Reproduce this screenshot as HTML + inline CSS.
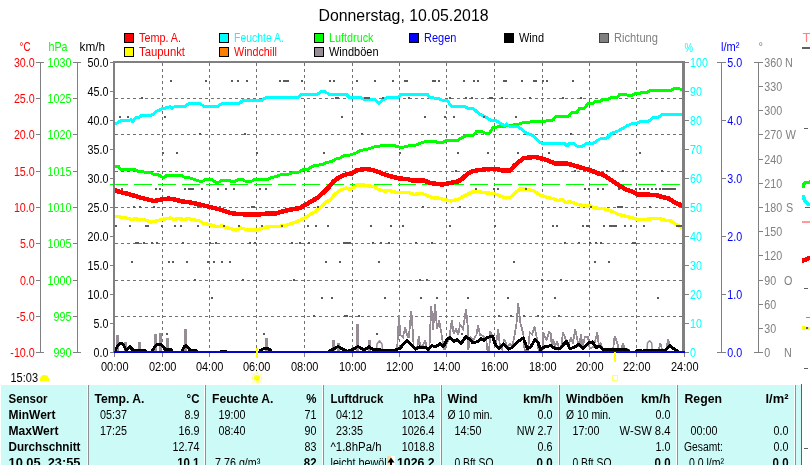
<!DOCTYPE html>
<html><head><meta charset="utf-8"><title>Donnerstag, 10.05.2018</title>
<style>
html,body{margin:0;padding:0;background:#fff;}
body{width:810px;height:465px;overflow:hidden;}
svg{display:block;will-change:transform;font-family:"Liberation Sans",sans-serif;}
text{white-space:pre;}
</style></head><body>
<svg width="810" height="465" viewBox="0 0 810 465">
<rect width="810" height="465" fill="#ffffff"/>
<text x="318.5" y="21.0" font-size="16" fill="#000" textLength="170.0" lengthAdjust="spacingAndGlyphs">Donnerstag, 10.05.2018</text>
<rect x="124" y="33" width="10" height="10" fill="#000" />
<rect x="125" y="34" width="8" height="8" fill="#ff0000" />
<text x="139.0" y="42.0" font-size="12" fill="#ff0000" textLength="42.0" lengthAdjust="spacingAndGlyphs">Temp. A.</text>
<rect x="124" y="47" width="10" height="10" fill="#000" />
<rect x="125" y="48" width="8" height="8" fill="#ffff00" />
<text x="139.0" y="56.0" font-size="12" fill="#ff0000" textLength="46.0" lengthAdjust="spacingAndGlyphs">Taupunkt</text>
<rect x="219" y="33" width="10" height="10" fill="#000" />
<rect x="220" y="34" width="8" height="8" fill="#00ffff" />
<text x="234.0" y="42.0" font-size="12" fill="#00ffff" textLength="50.0" lengthAdjust="spacingAndGlyphs">Feuchte A.</text>
<rect x="219" y="47" width="10" height="10" fill="#000" />
<rect x="220" y="48" width="8" height="8" fill="#ff8000" />
<text x="234.0" y="56.0" font-size="12" fill="#ff0000" textLength="43.0" lengthAdjust="spacingAndGlyphs">Windchill</text>
<rect x="314" y="33" width="10" height="10" fill="#000" />
<rect x="315" y="34" width="8" height="8" fill="#00ff00" />
<text x="329.0" y="42.0" font-size="12" fill="#00ff00" textLength="44.5" lengthAdjust="spacingAndGlyphs">Luftdruck</text>
<rect x="314" y="47" width="10" height="10" fill="#000" />
<rect x="315" y="48" width="8" height="8" fill="#968c96" />
<text x="329.0" y="56.0" font-size="12" fill="#000" textLength="49.5" lengthAdjust="spacingAndGlyphs">Windböen</text>
<rect x="409" y="33" width="10" height="10" fill="#000" />
<rect x="410" y="34" width="8" height="8" fill="#0000ff" />
<text x="424.0" y="42.0" font-size="12" fill="#0000ff" textLength="32.5" lengthAdjust="spacingAndGlyphs">Regen</text>
<rect x="504" y="33" width="10" height="10" fill="#000" />
<rect x="505" y="34" width="8" height="8" fill="#000" />
<text x="519.0" y="42.0" font-size="12" fill="#000" textLength="25.0" lengthAdjust="spacingAndGlyphs">Wind</text>
<rect x="599" y="33" width="10" height="10" fill="#404040" />
<rect x="600" y="34" width="8" height="8" fill="#808080" />
<text x="614.0" y="42.0" font-size="12" fill="#808080" textLength="44.0" lengthAdjust="spacingAndGlyphs">Richtung</text>
<text x="19.5" y="51.0" font-size="12" fill="#ff0000" textLength="11.0" lengthAdjust="spacingAndGlyphs">°C</text>
<text x="48.5" y="51.0" font-size="12" fill="#00ff00" textLength="19.0" lengthAdjust="spacingAndGlyphs">hPa</text>
<text x="79.5" y="51.0" font-size="12" fill="#000" textLength="25.5" lengthAdjust="spacingAndGlyphs">km/h</text>
<text x="684.5" y="51.5" font-size="12" fill="#00ffff" textLength="8.5" lengthAdjust="spacingAndGlyphs">%</text>
<text x="721.0" y="51.0" font-size="12" fill="#0000ff" textLength="18.5" lengthAdjust="spacingAndGlyphs">l/m²</text>
<text x="758.5" y="51.0" font-size="12" fill="#808080" textLength="4.5" lengthAdjust="spacingAndGlyphs">°</text>
<rect x="40" y="62" width="1" height="291" fill="#808080" />
<rect x="36" y="62" width="8" height="1" fill="#808080" />
<text x="13.9" y="66.6" font-size="12" fill="#ff0000" textLength="20.9" lengthAdjust="spacingAndGlyphs">30.0</text>
<rect x="36" y="98" width="5" height="1" fill="#808080" />
<text x="13.9" y="102.6" font-size="12" fill="#ff0000" textLength="20.9" lengthAdjust="spacingAndGlyphs">25.0</text>
<rect x="36" y="134" width="5" height="1" fill="#808080" />
<text x="13.9" y="138.6" font-size="12" fill="#ff0000" textLength="20.9" lengthAdjust="spacingAndGlyphs">20.0</text>
<rect x="36" y="171" width="5" height="1" fill="#808080" />
<text x="13.9" y="175.6" font-size="12" fill="#ff0000" textLength="20.9" lengthAdjust="spacingAndGlyphs">15.0</text>
<rect x="36" y="207" width="5" height="1" fill="#808080" />
<text x="13.9" y="211.6" font-size="12" fill="#ff0000" textLength="20.9" lengthAdjust="spacingAndGlyphs">10.0</text>
<rect x="36" y="243" width="5" height="1" fill="#808080" />
<text x="19.9" y="247.6" font-size="12" fill="#ff0000" textLength="14.9" lengthAdjust="spacingAndGlyphs">5.0</text>
<rect x="36" y="280" width="5" height="1" fill="#808080" />
<text x="19.9" y="284.6" font-size="12" fill="#ff0000" textLength="14.9" lengthAdjust="spacingAndGlyphs">0.0</text>
<rect x="36" y="316" width="5" height="1" fill="#808080" />
<text x="16.3" y="320.6" font-size="12" fill="#ff0000" textLength="18.5" lengthAdjust="spacingAndGlyphs">-5.0</text>
<rect x="36" y="352" width="8" height="1" fill="#808080" />
<text x="10.3" y="356.6" font-size="12" fill="#ff0000" textLength="24.5" lengthAdjust="spacingAndGlyphs">-10.0</text>
<rect x="77" y="62" width="1" height="291" fill="#808080" />
<rect x="73" y="62" width="8" height="1" fill="#808080" />
<text x="47.6" y="66.6" font-size="12" fill="#00ff00" textLength="23.9" lengthAdjust="spacingAndGlyphs">1030</text>
<rect x="73" y="98" width="5" height="1" fill="#808080" />
<text x="47.6" y="102.6" font-size="12" fill="#00ff00" textLength="23.9" lengthAdjust="spacingAndGlyphs">1025</text>
<rect x="73" y="134" width="5" height="1" fill="#808080" />
<text x="47.6" y="138.6" font-size="12" fill="#00ff00" textLength="23.9" lengthAdjust="spacingAndGlyphs">1020</text>
<rect x="73" y="171" width="5" height="1" fill="#808080" />
<text x="47.6" y="175.6" font-size="12" fill="#00ff00" textLength="23.9" lengthAdjust="spacingAndGlyphs">1015</text>
<rect x="73" y="207" width="5" height="1" fill="#808080" />
<text x="47.6" y="211.6" font-size="12" fill="#00ff00" textLength="23.9" lengthAdjust="spacingAndGlyphs">1010</text>
<rect x="73" y="243" width="5" height="1" fill="#808080" />
<text x="47.6" y="247.6" font-size="12" fill="#00ff00" textLength="23.9" lengthAdjust="spacingAndGlyphs">1005</text>
<rect x="73" y="280" width="5" height="1" fill="#808080" />
<text x="47.6" y="284.6" font-size="12" fill="#00ff00" textLength="23.9" lengthAdjust="spacingAndGlyphs">1000</text>
<rect x="73" y="316" width="5" height="1" fill="#808080" />
<text x="53.6" y="320.6" font-size="12" fill="#00ff00" textLength="17.9" lengthAdjust="spacingAndGlyphs">995</text>
<rect x="73" y="352" width="8" height="1" fill="#808080" />
<text x="53.6" y="356.6" font-size="12" fill="#00ff00" textLength="17.9" lengthAdjust="spacingAndGlyphs">990</text>
<rect x="110" y="62" width="3" height="1" fill="#808080" />
<text x="87.6" y="66.6" font-size="12" fill="#000" textLength="20.9" lengthAdjust="spacingAndGlyphs">50.0</text>
<rect x="110" y="91" width="3" height="1" fill="#808080" />
<text x="87.6" y="95.6" font-size="12" fill="#000" textLength="20.9" lengthAdjust="spacingAndGlyphs">45.0</text>
<rect x="110" y="120" width="3" height="1" fill="#808080" />
<text x="87.6" y="124.6" font-size="12" fill="#000" textLength="20.9" lengthAdjust="spacingAndGlyphs">40.0</text>
<rect x="110" y="149" width="3" height="1" fill="#808080" />
<text x="87.6" y="153.6" font-size="12" fill="#000" textLength="20.9" lengthAdjust="spacingAndGlyphs">35.0</text>
<rect x="110" y="178" width="3" height="1" fill="#808080" />
<text x="87.6" y="182.6" font-size="12" fill="#000" textLength="20.9" lengthAdjust="spacingAndGlyphs">30.0</text>
<rect x="110" y="207" width="3" height="1" fill="#808080" />
<text x="87.6" y="211.6" font-size="12" fill="#000" textLength="20.9" lengthAdjust="spacingAndGlyphs">25.0</text>
<rect x="110" y="236" width="3" height="1" fill="#808080" />
<text x="87.6" y="240.6" font-size="12" fill="#000" textLength="20.9" lengthAdjust="spacingAndGlyphs">20.0</text>
<rect x="110" y="265" width="3" height="1" fill="#808080" />
<text x="87.6" y="269.6" font-size="12" fill="#000" textLength="20.9" lengthAdjust="spacingAndGlyphs">15.0</text>
<rect x="110" y="294" width="3" height="1" fill="#808080" />
<text x="87.6" y="298.6" font-size="12" fill="#000" textLength="20.9" lengthAdjust="spacingAndGlyphs">10.0</text>
<rect x="110" y="323" width="3" height="1" fill="#808080" />
<text x="93.6" y="327.6" font-size="12" fill="#000" textLength="14.9" lengthAdjust="spacingAndGlyphs">5.0</text>
<rect x="110" y="352" width="3" height="1" fill="#808080" />
<text x="93.6" y="356.6" font-size="12" fill="#000" textLength="14.9" lengthAdjust="spacingAndGlyphs">0.0</text>
<rect x="685" y="62" width="4" height="1" fill="#808080" />
<text x="690.0" y="66.6" font-size="12" fill="#00ffff" textLength="17.9" lengthAdjust="spacingAndGlyphs">100</text>
<rect x="685" y="91" width="4" height="1" fill="#808080" />
<text x="690.0" y="95.6" font-size="12" fill="#00ffff" textLength="11.9" lengthAdjust="spacingAndGlyphs">90</text>
<rect x="685" y="120" width="4" height="1" fill="#808080" />
<text x="690.0" y="124.6" font-size="12" fill="#00ffff" textLength="11.9" lengthAdjust="spacingAndGlyphs">80</text>
<rect x="685" y="149" width="4" height="1" fill="#808080" />
<text x="690.0" y="153.6" font-size="12" fill="#00ffff" textLength="11.9" lengthAdjust="spacingAndGlyphs">70</text>
<rect x="685" y="178" width="4" height="1" fill="#808080" />
<text x="690.0" y="182.6" font-size="12" fill="#00ffff" textLength="11.9" lengthAdjust="spacingAndGlyphs">60</text>
<rect x="685" y="207" width="4" height="1" fill="#808080" />
<text x="690.0" y="211.6" font-size="12" fill="#00ffff" textLength="11.9" lengthAdjust="spacingAndGlyphs">50</text>
<rect x="685" y="236" width="4" height="1" fill="#808080" />
<text x="690.0" y="240.6" font-size="12" fill="#00ffff" textLength="11.9" lengthAdjust="spacingAndGlyphs">40</text>
<rect x="685" y="265" width="4" height="1" fill="#808080" />
<text x="690.0" y="269.6" font-size="12" fill="#00ffff" textLength="11.9" lengthAdjust="spacingAndGlyphs">30</text>
<rect x="685" y="294" width="4" height="1" fill="#808080" />
<text x="690.0" y="298.6" font-size="12" fill="#00ffff" textLength="11.9" lengthAdjust="spacingAndGlyphs">20</text>
<rect x="685" y="323" width="4" height="1" fill="#808080" />
<text x="690.0" y="327.6" font-size="12" fill="#00ffff" textLength="11.9" lengthAdjust="spacingAndGlyphs">10</text>
<rect x="685" y="352" width="4" height="1" fill="#808080" />
<text x="690.0" y="356.6" font-size="12" fill="#00ffff" textLength="6.0" lengthAdjust="spacingAndGlyphs">0</text>
<rect x="721" y="62" width="1" height="291" fill="#808080" />
<rect x="717" y="62" width="9" height="1" fill="#808080" />
<text x="727.3" y="66.6" font-size="12" fill="#0000ff" textLength="14.9" lengthAdjust="spacingAndGlyphs">5.0</text>
<rect x="721" y="120" width="5" height="1" fill="#808080" />
<text x="727.3" y="124.6" font-size="12" fill="#0000ff" textLength="14.9" lengthAdjust="spacingAndGlyphs">4.0</text>
<rect x="721" y="178" width="5" height="1" fill="#808080" />
<text x="727.3" y="182.6" font-size="12" fill="#0000ff" textLength="14.9" lengthAdjust="spacingAndGlyphs">3.0</text>
<rect x="721" y="236" width="5" height="1" fill="#808080" />
<text x="727.3" y="240.6" font-size="12" fill="#0000ff" textLength="14.9" lengthAdjust="spacingAndGlyphs">2.0</text>
<rect x="721" y="294" width="5" height="1" fill="#808080" />
<text x="727.3" y="298.6" font-size="12" fill="#0000ff" textLength="14.9" lengthAdjust="spacingAndGlyphs">1.0</text>
<rect x="717" y="352" width="9" height="1" fill="#808080" />
<text x="727.3" y="356.6" font-size="12" fill="#0000ff" textLength="14.9" lengthAdjust="spacingAndGlyphs">0.0</text>
<rect x="758" y="62" width="1" height="291" fill="#808080" />
<rect x="754" y="62" width="9" height="1" fill="#808080" />
<text x="764.3" y="66.6" font-size="12" fill="#808080" textLength="17.9" lengthAdjust="spacingAndGlyphs">360</text>
<text x="785.0" y="66.6" font-size="12" fill="#808080" textLength="7.8" lengthAdjust="spacingAndGlyphs">N</text>
<rect x="758" y="86" width="5" height="1" fill="#808080" />
<text x="764.3" y="90.6" font-size="12" fill="#808080" textLength="17.9" lengthAdjust="spacingAndGlyphs">330</text>
<rect x="758" y="110" width="5" height="1" fill="#808080" />
<text x="764.3" y="114.6" font-size="12" fill="#808080" textLength="17.9" lengthAdjust="spacingAndGlyphs">300</text>
<rect x="758" y="134" width="5" height="1" fill="#808080" />
<text x="764.3" y="138.6" font-size="12" fill="#808080" textLength="17.9" lengthAdjust="spacingAndGlyphs">270</text>
<text x="785.5" y="138.6" font-size="12" fill="#808080" textLength="10.4" lengthAdjust="spacingAndGlyphs">W</text>
<rect x="758" y="159" width="5" height="1" fill="#808080" />
<text x="764.3" y="163.6" font-size="12" fill="#808080" textLength="17.9" lengthAdjust="spacingAndGlyphs">240</text>
<rect x="758" y="183" width="5" height="1" fill="#808080" />
<text x="764.3" y="187.6" font-size="12" fill="#808080" textLength="17.9" lengthAdjust="spacingAndGlyphs">210</text>
<rect x="758" y="207" width="5" height="1" fill="#808080" />
<text x="764.3" y="211.6" font-size="12" fill="#808080" textLength="17.9" lengthAdjust="spacingAndGlyphs">180</text>
<text x="786.0" y="211.6" font-size="12" fill="#808080" textLength="7.2" lengthAdjust="spacingAndGlyphs">S</text>
<rect x="758" y="231" width="5" height="1" fill="#808080" />
<text x="764.3" y="235.6" font-size="12" fill="#808080" textLength="17.9" lengthAdjust="spacingAndGlyphs">150</text>
<rect x="758" y="255" width="5" height="1" fill="#808080" />
<text x="764.3" y="259.6" font-size="12" fill="#808080" textLength="17.9" lengthAdjust="spacingAndGlyphs">120</text>
<rect x="758" y="280" width="5" height="1" fill="#808080" />
<text x="764.3" y="284.6" font-size="12" fill="#808080" textLength="11.9" lengthAdjust="spacingAndGlyphs">90</text>
<text x="784.0" y="284.6" font-size="12" fill="#808080" textLength="8.4" lengthAdjust="spacingAndGlyphs">O</text>
<rect x="758" y="304" width="5" height="1" fill="#808080" />
<text x="764.3" y="308.6" font-size="12" fill="#808080" textLength="11.9" lengthAdjust="spacingAndGlyphs">60</text>
<rect x="758" y="328" width="5" height="1" fill="#808080" />
<text x="764.3" y="332.6" font-size="12" fill="#808080" textLength="11.9" lengthAdjust="spacingAndGlyphs">30</text>
<rect x="754" y="352" width="9" height="1" fill="#808080" />
<text x="764.3" y="356.6" font-size="12" fill="#808080" textLength="6.0" lengthAdjust="spacingAndGlyphs">0</text>
<text x="784.0" y="356.6" font-size="12" fill="#808080" textLength="7.8" lengthAdjust="spacingAndGlyphs">N</text>
<g shape-rendering="crispEdges">
<line x1="162.5" y1="63" x2="162.5" y2="351" stroke="#707070" stroke-width="1" stroke-dasharray="3 3"/>
<line x1="209.5" y1="63" x2="209.5" y2="351" stroke="#707070" stroke-width="1" stroke-dasharray="3 3"/>
<line x1="256.5" y1="63" x2="256.5" y2="351" stroke="#707070" stroke-width="1" stroke-dasharray="3 3"/>
<line x1="304.5" y1="63" x2="304.5" y2="351" stroke="#707070" stroke-width="1" stroke-dasharray="3 3"/>
<line x1="352.5" y1="63" x2="352.5" y2="351" stroke="#707070" stroke-width="1" stroke-dasharray="3 3"/>
<line x1="399.5" y1="63" x2="399.5" y2="351" stroke="#707070" stroke-width="1" stroke-dasharray="3 3"/>
<line x1="446.5" y1="63" x2="446.5" y2="351" stroke="#707070" stroke-width="1" stroke-dasharray="3 3"/>
<line x1="494.5" y1="63" x2="494.5" y2="351" stroke="#707070" stroke-width="1" stroke-dasharray="3 3"/>
<line x1="542.5" y1="63" x2="542.5" y2="351" stroke="#707070" stroke-width="1" stroke-dasharray="3 3"/>
<line x1="589.5" y1="63" x2="589.5" y2="351" stroke="#707070" stroke-width="1" stroke-dasharray="3 3"/>
<line x1="636.5" y1="63" x2="636.5" y2="351" stroke="#707070" stroke-width="1" stroke-dasharray="3 3"/>
<line x1="115" y1="98.5" x2="682" y2="98.5" stroke="#707070" stroke-width="1" stroke-dasharray="3 3"/>
<line x1="115" y1="134.5" x2="682" y2="134.5" stroke="#707070" stroke-width="1" stroke-dasharray="3 3"/>
<line x1="115" y1="171.5" x2="682" y2="171.5" stroke="#707070" stroke-width="1" stroke-dasharray="3 3"/>
<line x1="115" y1="207.5" x2="682" y2="207.5" stroke="#707070" stroke-width="1" stroke-dasharray="3 3"/>
<line x1="115" y1="243.5" x2="682" y2="243.5" stroke="#707070" stroke-width="1" stroke-dasharray="3 3"/>
<line x1="115" y1="280.5" x2="682" y2="280.5" stroke="#707070" stroke-width="1" stroke-dasharray="3 3"/>
<line x1="115" y1="316.5" x2="682" y2="316.5" stroke="#707070" stroke-width="1" stroke-dasharray="3 3"/>
</g>
<line x1="110" y1="184.5" x2="684" y2="184.5" stroke="#00ff00" stroke-width="1" stroke-dasharray="18 6" shape-rendering="crispEdges"/>
<g fill="#968c96" shape-rendering="crispEdges">
<rect x="116" y="335" width="3" height="16"/>
<rect x="124" y="342" width="3" height="9"/>
<rect x="138" y="342" width="3" height="9"/>
<rect x="154" y="334" width="3" height="17"/>
<rect x="159" y="333" width="3" height="18"/>
<rect x="166" y="338" width="3" height="13"/>
<rect x="184" y="329" width="3" height="22"/>
<rect x="265" y="338" width="3" height="13"/>
<rect x="332" y="340" width="3" height="11"/>
<rect x="337" y="343" width="3" height="8"/>
<rect x="356" y="324" width="3" height="27"/>
<rect x="368" y="340" width="3" height="11"/>
</g>
<polyline points="397.1,350.0 399.0,315.0 400.2,334.8 403.0,337.0 405.2,327.3 406.6,333.7 408.7,338.0 411.3,311.0 413.0,333.7 413.6,346.5 417.0,348.8 418.8,336.6 420.3,346.5 422.9,345.3 425.2,340.0 427.0,348.8 429.3,350.0 431.2,305.8 433.1,330.2 435.1,304.0 437.0,329.0 439.1,320.3 440.9,330.2 442.6,340.7 444.4,350.0 449.6,336.0 451.9,320.3 453.7,333.7 456.0,329.0 458.3,334.8 460.0,324.4 462.9,329.0 466.1,309.3 468.2,331.4 468.2,350.0 470.5,337.0 473.5,339.5 476.4,334.8 478.1,325.0 479.9,334.8 482.8,336.0 486.3,339.5 487.4,350.0 489.2,350.0 490.3,331.4 493.2,338.3 496.1,344.0 498.2,329.0 500.0,346.5 502.0,348.8 504.3,339.0 507.2,346.5 510.0,344.0 512.4,346.5 514.7,334.8 516.5,323.2 518.2,303.5 520.5,323.2 522.3,330.2 523.4,334.8 524.6,350.0 528.0,350.0 529.8,332.5 532.1,334.8 534.5,326.7 536.8,338.3 538.5,350.0 542.6,350.0 543.4,332.5 545.5,338.3 546.7,339.5 549.0,332.0 550.8,333.7 551.7,346.5 553.1,339.0 554.9,346.5 557.2,341.2 559.0,348.8 561.3,346.5 563.0,332.0 565.3,338.3 568.2,346.5 571.1,337.2 572.9,344.0 575.2,329.0 577.5,340.7 579.3,346.5 581.0,334.3 582.7,346.5 585.0,336.6 588.0,336.6 589.7,348.8 593.8,346.5 597.3,332.0 599.0,346.5 600.7,343.5 602.5,348.8 607.0,350.0 613.0,350.0 614.7,336.0 617.6,344.0 618.2,350.0 621.7,350.0 622.8,343.0 624.9,348.8 630.0,350.0" fill="none" stroke="#968c96" stroke-width="1.8" stroke-linejoin="miter" stroke-miterlimit="3" shape-rendering="crispEdges"/>
<polyline points="659.0,349.0 660.3,343.5 662.0,349.0" fill="none" stroke="#968c96" stroke-width="1.8" stroke-linejoin="miter" stroke-miterlimit="3" shape-rendering="crispEdges"/>
<polyline points="666.7,347.0 668.2,339.5 669.6,346.0" fill="none" stroke="#968c96" stroke-width="1.8" stroke-linejoin="miter" stroke-miterlimit="3" shape-rendering="crispEdges"/>
<polyline points="376.5,350.0 377.0,344.0 379.5,340.8 382.0,344.0 382.5,350.0" fill="none" stroke="#968c96" stroke-width="1.5" stroke-linejoin="round" stroke-linecap="round" />
<polyline points="647.0,350.0 647.5,343.0 649.6,340.8 651.7,343.0 652.2,350.0" fill="none" stroke="#968c96" stroke-width="1.5" stroke-linejoin="round" stroke-linecap="round" />
<clipPath id="pc"><rect x="114" y="62" width="570" height="291"/></clipPath><g clip-path="url(#pc)" shape-rendering="crispEdges">
<polyline points="114.0,166.0 118.0,166.0 121.0,169.4 134.0,169.4 138.0,171.4 150.0,172.6 154.0,174.4 158.0,174.4 162.0,177.0 165.0,177.0 167.0,175.0 181.0,175.0 184.0,177.0 190.0,178.0 194.0,179.4 199.0,181.0 203.0,181.0 206.0,179.4 212.0,179.4 215.0,182.0 219.0,182.0 222.0,180.4 229.0,180.4 231.0,181.4 235.0,181.4 238.0,179.4 242.0,179.4 245.0,181.0 252.0,181.0 255.0,179.4 268.0,179.4 271.0,177.6 276.0,176.6 280.0,175.0 288.0,174.4 292.0,173.0 299.0,172.0 303.0,169.4 308.0,169.4 312.0,166.4 316.0,165.4 323.0,164.4 327.0,162.4 332.0,161.4 336.0,159.0 340.0,158.0 344.0,155.4 350.0,155.0 356.0,153.0 360.0,150.6 368.0,149.0 374.0,147.0 382.0,145.6 394.0,145.6 399.0,147.0 404.0,147.0 408.0,146.0 416.0,145.0 422.0,142.6 428.0,141.0 434.0,141.0 438.0,142.6 443.0,142.6 446.0,140.4 458.0,140.4 462.0,137.6 468.0,135.0 474.0,135.0 477.0,131.0 481.0,131.0 485.0,133.0 489.6,133.0 493.0,127.4 503.0,126.4 518.0,124.4 524.0,122.4 546.0,121.0 553.0,120.0 556.0,116.6 569.0,116.0 572.0,112.2 577.0,112.2 580.0,108.0 585.0,108.0 588.0,103.4 593.0,103.4 596.0,101.0 601.0,101.0 603.0,99.0 609.0,99.0 611.0,97.4 617.0,97.4 620.0,94.0 625.0,94.0 628.0,95.4 632.0,95.4 635.0,93.4 640.0,93.4 642.0,92.4 647.0,92.4 650.0,90.6 671.0,90.6 674.0,88.4 679.0,88.4 683.0,90.6" fill="none" stroke="#00ff00" stroke-width="3" stroke-linejoin="round" stroke-linecap="round" />
<polyline points="114.0,123.4 117.0,123.0 121.0,120.6 129.0,120.6 131.0,119.5 133.0,122.0 135.0,118.0 137.0,117.6 140.0,117.0 142.0,115.0 152.0,115.0 155.0,112.5 157.0,111.0 160.0,110.0 162.0,108.6 168.0,107.6 170.0,106.5 172.0,108.5 174.0,107.0 185.0,106.4 189.0,103.6 200.0,103.6 204.0,106.4 218.0,106.4 222.0,103.6 239.0,103.6 243.0,100.4 262.0,100.4 266.0,97.6 298.0,97.6 301.6,94.0 318.0,94.0 321.0,91.6 325.0,91.6 328.4,94.0 346.0,94.0 349.6,97.6 361.0,97.6 364.0,99.6 375.0,99.6 379.0,103.4 383.0,99.6 387.0,97.6 398.0,97.6 401.0,94.0 427.0,94.0 430.0,97.6 438.0,98.4 442.0,100.0 447.0,100.0 451.0,106.0 464.0,106.0 468.0,108.4 473.0,108.4 480.0,114.4 484.0,116.0 491.0,120.4 496.0,120.4 502.0,124.4 505.0,126.0 506.5,124.0 508.5,126.0 518.0,126.4 526.0,133.0 532.0,135.0 541.0,143.0 564.0,143.0 567.0,146.0 570.0,143.0 573.0,143.0 577.0,146.0 583.0,146.0 587.0,143.0 594.0,143.0 598.0,140.0 602.0,138.0 607.0,138.0 612.0,133.0 618.0,131.0 626.0,126.4 632.0,123.6 637.0,123.6 641.0,121.0 649.0,121.0 653.0,117.6 658.0,117.6 662.0,114.6 683.0,114.6" fill="none" stroke="#00ffff" stroke-width="3" stroke-linejoin="round" stroke-linecap="round" />
<polyline points="114.0,216.0 120.0,217.0 126.0,218.0 132.0,219.6 136.0,218.6 140.0,220.0 144.0,219.4 151.0,222.0 156.0,221.0 162.0,219.4 170.0,218.0 174.0,219.4 178.0,218.6 184.0,219.4 189.0,218.6 194.0,220.0 199.0,220.6 204.0,223.6 210.0,224.6 216.0,226.6 222.0,226.0 230.0,228.6 236.0,230.0 241.0,228.0 248.0,230.0 258.0,230.0 264.0,227.4 272.0,226.4 276.0,226.4 284.0,226.0 290.0,224.0 296.0,222.0 302.0,219.4 308.0,216.0 316.0,211.0 321.0,206.6 326.0,202.0 330.0,200.0 335.0,194.0 340.0,190.4 346.0,188.0 350.0,189.4 353.0,188.0 357.0,185.0 364.0,185.0 368.0,186.0 374.0,186.4 378.0,189.4 384.0,191.0 390.0,190.6 396.0,192.4 408.0,192.4 414.0,194.4 422.0,193.4 428.0,196.0 434.0,198.0 438.0,198.0 444.0,199.4 451.0,201.0 458.0,199.4 464.0,196.0 472.0,192.0 478.0,191.6 486.0,193.0 494.0,193.4 500.0,196.0 506.0,198.0 510.0,197.4 515.0,193.0 520.0,189.0 526.0,189.0 534.0,191.0 540.0,195.0 547.0,197.4 553.0,198.6 558.0,200.6 562.0,199.4 566.0,202.6 570.0,201.6 578.0,204.6 586.0,206.0 590.0,206.0 595.0,208.0 604.0,208.6 612.0,211.4 619.0,214.6 628.0,216.6 638.0,219.6 646.0,219.4 652.0,218.6 660.0,218.6 666.0,220.6 671.0,221.0 677.0,225.0 683.0,228.0" fill="none" stroke="#ffff00" stroke-width="3.4" stroke-linejoin="round" stroke-linecap="round" />
<polyline points="114.0,190.0 120.0,192.0 126.0,193.4 134.0,195.6 142.0,198.0 150.0,200.0 154.0,201.0 162.0,199.4 169.0,198.6 174.0,199.4 182.0,201.4 190.0,202.4 198.0,204.0 206.0,206.0 214.0,208.0 222.0,210.0 230.0,213.0 238.0,214.0 250.0,214.6 258.0,214.6 266.0,213.6 276.0,213.6 284.0,211.0 292.0,209.4 300.0,208.0 305.0,205.0 312.0,201.0 318.0,197.4 324.0,192.0 329.0,187.0 334.0,181.0 339.0,177.4 346.0,174.4 352.0,173.4 356.0,170.6 362.0,169.4 368.0,169.0 374.0,170.4 380.0,172.6 386.0,175.0 392.0,176.6 400.0,178.6 408.0,179.0 412.0,180.6 424.0,180.4 430.0,183.0 438.0,184.0 442.0,184.6 450.0,183.0 458.0,181.4 462.0,179.0 468.0,173.4 473.0,171.0 480.0,170.0 488.0,169.0 497.0,169.0 502.0,170.6 510.0,170.6 515.0,165.0 520.0,161.0 524.0,158.0 535.0,157.0 542.0,158.6 548.0,160.6 555.0,163.4 566.0,163.4 574.0,165.4 582.0,168.0 590.0,170.0 598.0,173.4 603.0,174.6 608.0,178.0 614.0,182.0 620.0,186.0 626.0,189.4 632.0,191.6 638.0,194.4 646.0,194.6 656.0,195.0 662.0,197.0 669.0,198.6 675.0,202.6 683.0,206.0" fill="none" stroke="#ff0000" stroke-width="4.5" stroke-linejoin="round" stroke-linecap="round" />
</g>
<g fill="#5a5a5a" shape-rendering="crispEdges">
<rect x="170" y="80" width="2" height="2"/>
<rect x="205" y="80" width="2" height="2"/>
<rect x="231" y="80" width="2" height="2"/>
<rect x="237" y="80" width="2" height="2"/>
<rect x="246" y="80" width="2" height="2"/>
<rect x="279" y="80" width="2" height="2"/>
<rect x="283" y="80" width="2" height="2"/>
<rect x="285" y="80" width="2" height="2"/>
<rect x="287" y="80" width="2" height="2"/>
<rect x="301" y="80" width="2" height="2"/>
<rect x="329" y="80" width="2" height="2"/>
<rect x="333" y="80" width="2" height="2"/>
<rect x="356" y="80" width="2" height="2"/>
<rect x="374" y="80" width="2" height="2"/>
<rect x="392" y="80" width="2" height="2"/>
<rect x="404" y="80" width="2" height="2"/>
<rect x="406" y="80" width="2" height="2"/>
<rect x="432" y="80" width="2" height="2"/>
<rect x="434" y="80" width="2" height="2"/>
<rect x="438" y="80" width="2" height="2"/>
<rect x="463" y="80" width="2" height="2"/>
<rect x="473" y="80" width="2" height="2"/>
<rect x="477" y="80" width="2" height="2"/>
<rect x="503" y="80" width="2" height="2"/>
<rect x="505" y="80" width="2" height="2"/>
<rect x="521" y="80" width="2" height="2"/>
<rect x="533" y="80" width="2" height="2"/>
<rect x="535" y="80" width="2" height="2"/>
<rect x="542" y="80" width="2" height="2"/>
<rect x="546" y="80" width="2" height="2"/>
<rect x="572" y="80" width="2" height="2"/>
<rect x="141" y="97" width="2" height="2"/>
<rect x="335" y="97" width="2" height="2"/>
<rect x="337" y="97" width="2" height="2"/>
<rect x="364" y="97" width="2" height="2"/>
<rect x="366" y="97" width="2" height="2"/>
<rect x="368" y="97" width="2" height="2"/>
<rect x="382" y="97" width="2" height="2"/>
<rect x="408" y="97" width="2" height="2"/>
<rect x="449" y="97" width="2" height="2"/>
<rect x="465" y="97" width="2" height="2"/>
<rect x="471" y="97" width="2" height="2"/>
<rect x="489" y="97" width="2" height="2"/>
<rect x="491" y="97" width="2" height="2"/>
<rect x="501" y="97" width="2" height="2"/>
<rect x="529" y="97" width="2" height="2"/>
<rect x="562" y="97" width="2" height="2"/>
<rect x="580" y="97" width="2" height="2"/>
<rect x="119" y="116" width="2" height="2"/>
<rect x="127" y="116" width="2" height="2"/>
<rect x="164" y="116" width="2" height="2"/>
<rect x="341" y="116" width="2" height="2"/>
<rect x="424" y="116" width="2" height="2"/>
<rect x="444" y="116" width="2" height="2"/>
<rect x="453" y="116" width="2" height="2"/>
<rect x="483" y="116" width="2" height="2"/>
<rect x="515" y="116" width="2" height="2"/>
<rect x="199" y="133" width="2" height="2"/>
<rect x="244" y="133" width="2" height="2"/>
<rect x="361" y="133" width="2" height="2"/>
<rect x="570" y="133" width="2" height="2"/>
<rect x="162" y="152" width="2" height="2"/>
<rect x="176" y="152" width="2" height="2"/>
<rect x="256" y="152" width="2" height="2"/>
<rect x="323" y="152" width="2" height="2"/>
<rect x="399" y="152" width="2" height="2"/>
<rect x="457" y="152" width="2" height="2"/>
<rect x="487" y="152" width="2" height="2"/>
<rect x="517" y="152" width="2" height="2"/>
<rect x="548" y="152" width="2" height="2"/>
<rect x="639" y="152" width="2" height="2"/>
<rect x="455" y="170" width="2" height="2"/>
<rect x="574" y="170" width="2" height="2"/>
<rect x="606" y="170" width="2" height="2"/>
<rect x="622" y="170" width="2" height="2"/>
<rect x="661" y="170" width="2" height="2"/>
<rect x="121" y="188" width="2" height="2"/>
<rect x="155" y="188" width="2" height="2"/>
<rect x="159" y="188" width="2" height="2"/>
<rect x="184" y="188" width="2" height="2"/>
<rect x="188" y="188" width="2" height="2"/>
<rect x="190" y="188" width="2" height="2"/>
<rect x="192" y="188" width="2" height="2"/>
<rect x="201" y="188" width="2" height="2"/>
<rect x="217" y="188" width="2" height="2"/>
<rect x="225" y="188" width="2" height="2"/>
<rect x="233" y="188" width="2" height="2"/>
<rect x="259" y="188" width="2" height="2"/>
<rect x="265" y="188" width="2" height="2"/>
<rect x="475" y="188" width="2" height="2"/>
<rect x="493" y="188" width="2" height="2"/>
<rect x="497" y="188" width="2" height="2"/>
<rect x="525" y="188" width="2" height="2"/>
<rect x="584" y="188" width="2" height="2"/>
<rect x="588" y="188" width="2" height="2"/>
<rect x="597" y="188" width="2" height="2"/>
<rect x="602" y="188" width="2" height="2"/>
<rect x="618" y="188" width="2" height="2"/>
<rect x="635" y="188" width="2" height="2"/>
<rect x="639" y="188" width="2" height="2"/>
<rect x="643" y="188" width="2" height="2"/>
<rect x="647" y="188" width="2" height="2"/>
<rect x="651" y="188" width="2" height="2"/>
<rect x="655" y="188" width="2" height="2"/>
<rect x="659" y="188" width="2" height="2"/>
<rect x="133" y="206" width="2" height="2"/>
<rect x="139" y="206" width="2" height="2"/>
<rect x="153" y="206" width="2" height="2"/>
<rect x="197" y="206" width="2" height="2"/>
<rect x="219" y="206" width="2" height="2"/>
<rect x="251" y="206" width="2" height="2"/>
<rect x="253" y="206" width="2" height="2"/>
<rect x="317" y="206" width="2" height="2"/>
<rect x="422" y="206" width="2" height="2"/>
<rect x="459" y="206" width="2" height="2"/>
<rect x="590" y="206" width="2" height="2"/>
<rect x="617" y="206" width="2" height="2"/>
<rect x="619" y="206" width="2" height="2"/>
<rect x="621" y="206" width="2" height="2"/>
<rect x="649" y="206" width="2" height="2"/>
<rect x="115" y="225" width="2" height="2"/>
<rect x="129" y="225" width="2" height="2"/>
<rect x="145" y="225" width="2" height="2"/>
<rect x="147" y="225" width="2" height="2"/>
<rect x="161" y="225" width="2" height="2"/>
<rect x="174" y="225" width="2" height="2"/>
<rect x="180" y="225" width="2" height="2"/>
<rect x="197" y="225" width="2" height="2"/>
<rect x="223" y="225" width="2" height="2"/>
<rect x="238" y="225" width="2" height="2"/>
<rect x="261" y="225" width="2" height="2"/>
<rect x="281" y="225" width="2" height="2"/>
<rect x="307" y="225" width="2" height="2"/>
<rect x="315" y="225" width="2" height="2"/>
<rect x="327" y="225" width="2" height="2"/>
<rect x="370" y="225" width="2" height="2"/>
<rect x="390" y="225" width="2" height="2"/>
<rect x="402" y="225" width="2" height="2"/>
<rect x="449" y="225" width="2" height="2"/>
<rect x="494" y="225" width="2" height="2"/>
<rect x="552" y="225" width="2" height="2"/>
<rect x="556" y="225" width="2" height="2"/>
<rect x="582" y="225" width="2" height="2"/>
<rect x="586" y="225" width="2" height="2"/>
<rect x="588" y="225" width="2" height="2"/>
<rect x="603" y="225" width="2" height="2"/>
<rect x="609" y="225" width="2" height="2"/>
<rect x="611" y="225" width="2" height="2"/>
<rect x="613" y="225" width="2" height="2"/>
<rect x="615" y="225" width="2" height="2"/>
<rect x="624" y="225" width="2" height="2"/>
<rect x="630" y="225" width="2" height="2"/>
<rect x="643" y="225" width="2" height="2"/>
<rect x="135" y="242" width="2" height="2"/>
<rect x="137" y="242" width="2" height="2"/>
<rect x="143" y="242" width="2" height="2"/>
<rect x="151" y="242" width="2" height="2"/>
<rect x="156" y="242" width="2" height="2"/>
<rect x="182" y="242" width="2" height="2"/>
<rect x="209" y="242" width="2" height="2"/>
<rect x="215" y="242" width="2" height="2"/>
<rect x="249" y="242" width="2" height="2"/>
<rect x="254" y="242" width="2" height="2"/>
<rect x="291" y="242" width="2" height="2"/>
<rect x="299" y="242" width="2" height="2"/>
<rect x="308" y="242" width="2" height="2"/>
<rect x="343" y="242" width="2" height="2"/>
<rect x="345" y="242" width="2" height="2"/>
<rect x="347" y="242" width="2" height="2"/>
<rect x="349" y="242" width="2" height="2"/>
<rect x="372" y="242" width="2" height="2"/>
<rect x="380" y="242" width="2" height="2"/>
<rect x="388" y="242" width="2" height="2"/>
<rect x="415" y="242" width="2" height="2"/>
<rect x="431" y="242" width="2" height="2"/>
<rect x="564" y="242" width="2" height="2"/>
<rect x="578" y="242" width="2" height="2"/>
<rect x="589" y="242" width="2" height="2"/>
<rect x="595" y="242" width="2" height="2"/>
<rect x="600" y="242" width="2" height="2"/>
<rect x="632" y="242" width="2" height="2"/>
<rect x="634" y="242" width="2" height="2"/>
<rect x="131" y="261" width="2" height="2"/>
<rect x="168" y="261" width="2" height="2"/>
<rect x="172" y="261" width="2" height="2"/>
<rect x="186" y="261" width="2" height="2"/>
<rect x="207" y="261" width="2" height="2"/>
<rect x="213" y="261" width="2" height="2"/>
<rect x="221" y="261" width="2" height="2"/>
<rect x="229" y="261" width="2" height="2"/>
<rect x="325" y="261" width="2" height="2"/>
<rect x="339" y="261" width="2" height="2"/>
<rect x="378" y="261" width="2" height="2"/>
<rect x="513" y="261" width="2" height="2"/>
<rect x="594" y="261" width="2" height="2"/>
<rect x="608" y="261" width="2" height="2"/>
<rect x="194" y="279" width="2" height="2"/>
<rect x="242" y="279" width="2" height="2"/>
<rect x="293" y="279" width="2" height="2"/>
<rect x="419" y="279" width="2" height="2"/>
<rect x="426" y="279" width="2" height="2"/>
<rect x="541" y="279" width="2" height="2"/>
<rect x="560" y="279" width="2" height="2"/>
<rect x="211" y="297" width="2" height="2"/>
<rect x="321" y="297" width="2" height="2"/>
<rect x="331" y="297" width="2" height="2"/>
<rect x="384" y="297" width="2" height="2"/>
<rect x="420" y="297" width="2" height="2"/>
<rect x="436" y="297" width="2" height="2"/>
<rect x="467" y="297" width="2" height="2"/>
<rect x="507" y="297" width="2" height="2"/>
<rect x="554" y="297" width="2" height="2"/>
<rect x="657" y="297" width="2" height="2"/>
<rect x="313" y="315" width="2" height="2"/>
<rect x="344" y="315" width="2" height="2"/>
<rect x="346" y="315" width="2" height="2"/>
<rect x="358" y="315" width="2" height="2"/>
<rect x="498" y="315" width="2" height="2"/>
<rect x="510" y="315" width="2" height="2"/>
<rect x="523" y="315" width="2" height="2"/>
<rect x="537" y="315" width="2" height="2"/>
<rect x="558" y="315" width="2" height="2"/>
<rect x="166" y="333" width="2" height="2"/>
<rect x="263" y="333" width="2" height="2"/>
<rect x="376" y="333" width="2" height="2"/>
<rect x="461" y="333" width="2" height="2"/>
<rect x="662" y="188" width="14" height="2"/><rect x="676" y="225" width="6" height="2"/>
</g>
<polyline points="115.0,351.0 117.0,347.0 119.0,344.0 121.0,343.0 123.0,344.0 125.0,348.0 126.0,350.0 128.0,349.0 130.0,346.5 132.0,349.0 134.0,350.8 146.0,351.0" fill="none" stroke="#000" stroke-width="3" stroke-linejoin="round" stroke-linecap="round" shape-rendering="crispEdges"/>
<polyline points="152.0,351.0 154.0,348.0 156.0,345.0 159.0,344.0 162.0,345.0 164.0,348.0 166.0,350.0 168.0,349.0 170.0,349.0 172.0,350.5" fill="none" stroke="#000" stroke-width="3" stroke-linejoin="round" stroke-linecap="round" shape-rendering="crispEdges"/>
<polyline points="182.0,351.0 184.0,347.0 186.0,345.6 188.0,347.0 190.0,350.5 197.0,351.0" fill="none" stroke="#000" stroke-width="3" stroke-linejoin="round" stroke-linecap="round" shape-rendering="crispEdges"/>
<polyline points="221.0,351.0 226.0,351.0" fill="none" stroke="#000" stroke-width="3" stroke-linejoin="round" stroke-linecap="round" shape-rendering="crispEdges"/>
<polyline points="260.0,350.5 263.0,349.0 268.0,348.5 271.0,350.5" fill="none" stroke="#000" stroke-width="3" stroke-linejoin="round" stroke-linecap="round" shape-rendering="crispEdges"/>
<polyline points="329.0,351.0 333.0,349.5 336.0,347.5 338.0,346.5 340.0,347.5 343.0,349.5 346.0,350.5" fill="none" stroke="#000" stroke-width="3" stroke-linejoin="round" stroke-linecap="round" shape-rendering="crispEdges"/>
<polyline points="349.0,350.5 353.0,349.5 356.0,347.5 358.0,346.5 360.0,347.5 363.0,349.5 366.0,349.0 369.0,346.5 372.0,349.0 376.0,349.5 385.0,350.5 395.0,350.0 400.0,348.4 403.8,343.5 406.7,340.5 410.7,344.5 415.6,349.0 419.6,347.0 425.5,347.4 428.5,349.4 431.4,345.8 436.4,346.4 440.3,343.5 443.3,346.4 447.2,339.5 450.2,337.5 454.2,341.5 457.1,339.5 461.1,343.5 466.0,336.6 470.0,339.5 473.0,343.0 477.9,341.5 480.8,338.5 483.8,340.5 487.8,337.2 492.7,336.6 495.7,345.5 498.6,348.4 503.6,343.9 508.5,349.0 512.5,347.4 517.4,341.9 523.3,338.0 527.3,348.4 530.2,347.4 535.2,339.5 538.0,342.5 540.5,349.4 545.0,346.4 550.8,345.8 554.8,348.4 559.7,349.0 563.6,344.5 566.6,341.5 569.6,348.4 573.5,347.8 578.5,344.5 583.4,348.4 588.3,343.0 592.3,341.9 596.2,347.4 599.2,346.4 603.2,349.4 610.0,349.3 624.0,349.3 628.0,350.5" fill="none" stroke="#000" stroke-width="3" stroke-linejoin="round" stroke-linecap="round" shape-rendering="crispEdges"/>
<polyline points="637.0,350.5 641.0,350.5" fill="none" stroke="#000" stroke-width="3" stroke-linejoin="round" stroke-linecap="round" shape-rendering="crispEdges"/>
<polyline points="644.0,350.5 665.0,350.2 669.6,345.6 673.3,348.5 677.5,350.8" fill="none" stroke="#000" stroke-width="3" stroke-linejoin="round" stroke-linecap="round" shape-rendering="crispEdges"/>
<g shape-rendering="crispEdges">
<rect x="113" y="61" width="2" height="292" fill="#808080" />
<rect x="113" y="61" width="572" height="2" fill="#808080" />
<rect x="682" y="61" width="3" height="292" fill="#808080" />
<rect x="114" y="351" width="571" height="1" fill="#0000ff" />
<rect x="114" y="352" width="571" height="1" fill="#0000c8" />
</g>
<rect x="114" y="353" width="1" height="4" fill="#808080" />
<text x="101.0" y="371.0" font-size="12" fill="#000" textLength="27.5" lengthAdjust="spacingAndGlyphs">00:00</text>
<rect x="162" y="353" width="1" height="4" fill="#808080" />
<text x="148.9" y="371.0" font-size="12" fill="#000" textLength="27.5" lengthAdjust="spacingAndGlyphs">02:00</text>
<rect x="209" y="353" width="1" height="4" fill="#808080" />
<text x="195.9" y="371.0" font-size="12" fill="#000" textLength="27.5" lengthAdjust="spacingAndGlyphs">04:00</text>
<rect x="256" y="353" width="1" height="4" fill="#808080" />
<text x="242.9" y="371.0" font-size="12" fill="#000" textLength="27.5" lengthAdjust="spacingAndGlyphs">06:00</text>
<rect x="304" y="353" width="1" height="4" fill="#808080" />
<text x="290.9" y="371.0" font-size="12" fill="#000" textLength="27.5" lengthAdjust="spacingAndGlyphs">08:00</text>
<rect x="352" y="353" width="1" height="4" fill="#808080" />
<text x="338.9" y="371.0" font-size="12" fill="#000" textLength="27.5" lengthAdjust="spacingAndGlyphs">10:00</text>
<rect x="399" y="353" width="1" height="4" fill="#808080" />
<text x="385.9" y="371.0" font-size="12" fill="#000" textLength="27.5" lengthAdjust="spacingAndGlyphs">12:00</text>
<rect x="446" y="353" width="1" height="4" fill="#808080" />
<text x="432.9" y="371.0" font-size="12" fill="#000" textLength="27.5" lengthAdjust="spacingAndGlyphs">14:00</text>
<rect x="494" y="353" width="1" height="4" fill="#808080" />
<text x="480.9" y="371.0" font-size="12" fill="#000" textLength="27.5" lengthAdjust="spacingAndGlyphs">16:00</text>
<rect x="542" y="353" width="1" height="4" fill="#808080" />
<text x="529.0" y="371.0" font-size="12" fill="#000" textLength="27.5" lengthAdjust="spacingAndGlyphs">18:00</text>
<rect x="589" y="353" width="1" height="4" fill="#808080" />
<text x="576.0" y="371.0" font-size="12" fill="#000" textLength="27.5" lengthAdjust="spacingAndGlyphs">20:00</text>
<rect x="636" y="353" width="1" height="4" fill="#808080" />
<text x="623.0" y="371.0" font-size="12" fill="#000" textLength="27.5" lengthAdjust="spacingAndGlyphs">22:00</text>
<rect x="684" y="353" width="1" height="4" fill="#808080" />
<text x="671.0" y="371.0" font-size="12" fill="#000" textLength="27.5" lengthAdjust="spacingAndGlyphs">24:00</text>
<rect x="256" y="348" width="2" height="10" fill="#ffff00" />
<rect x="614" y="352" width="2" height="10" fill="#ffff00" />
<text x="10.5" y="382.0" font-size="12" fill="#000" textLength="27.5" lengthAdjust="spacingAndGlyphs">15:03</text>
<path d="M40 381 L40 379 Q40.5 375 44.5 375 Q48.5 375 49 379 L49 381 Z" fill="#ffff00"/>
<g stroke="#ffff8c" stroke-width="1" fill="none"><circle cx="257" cy="378" r="4.6"/><path d="M252.2 373.2L254 375M261.8 373.2L260 375M252.2 382.8L254 381M261.8 382.8L260 381M257 372v1.5M257 384v-1.5M251 378h1.5M263 378h-1.5"/></g><circle cx="257" cy="378" r="3" fill="#ffff00"/>
<rect x="612.5" y="375.5" width="5" height="5" fill="none" stroke="#ffff66" stroke-width="1"/>
<text x="802.5" y="42.0" font-size="12" fill="#ff8080" textLength="8.0" lengthAdjust="spacingAndGlyphs">T</text>
<rect x="802" y="47" width="8" height="2" fill="#606060" />
<rect x="804" y="128" width="4" height="1" fill="#606060" />
<rect x="805" y="207" width="5" height="1" fill="#606060" />
<rect x="804" y="288" width="4" height="1" fill="#606060" />
<rect x="804" y="368" width="4" height="1" fill="#606060" />
<rect x="804" y="448" width="4" height="1" fill="#606060" />
<clipPath id="rc"><rect x="802" y="0" width="8" height="465"/></clipPath><g clip-path="url(#rc)" shape-rendering="crispEdges">
<polyline points="803.5,186.5 803.5,184.0 805.5,182.5 812.0,182.0" fill="none" stroke="#00ff00" stroke-width="3.5" stroke-linejoin="round" stroke-linecap="round" />
<polyline points="803.5,196.5 804.5,200.0 807.0,203.5 812.0,205.5" fill="none" stroke="#00ffff" stroke-width="3.6" stroke-linejoin="round" stroke-linecap="round" />
<rect x="802" y="221" width="9" height="2" fill="#ff9a9a" />
<polyline points="800.0,261.5 806.0,259.5 812.0,257.0" fill="none" stroke="#ff0000" stroke-width="4.5" stroke-linejoin="round" stroke-linecap="round" />
<rect x="806" y="317" width="5" height="1" fill="#00ff00" />
<polyline points="800.0,328.0 812.0,328.5" fill="none" stroke="#ffff00" stroke-width="3.4" stroke-linejoin="round" stroke-linecap="round" />
</g>
<rect x="806" y="327" width="2" height="2" fill="#5a5a5a" />
<rect x="1" y="385" width="800" height="80" fill="#ccfaf6" />
<rect x="801" y="384" width="1" height="82" fill="#606060" />
<rect x="87" y="385" width="1" height="81" fill="#ffffff" />
<rect x="88" y="385" width="1" height="81" fill="#909090" />
<rect x="204" y="385" width="1" height="81" fill="#ffffff" />
<rect x="205" y="385" width="1" height="81" fill="#909090" />
<rect x="322" y="385" width="1" height="81" fill="#ffffff" />
<rect x="323" y="385" width="1" height="81" fill="#909090" />
<rect x="440" y="385" width="1" height="81" fill="#ffffff" />
<rect x="441" y="385" width="1" height="81" fill="#909090" />
<rect x="558" y="385" width="1" height="81" fill="#ffffff" />
<rect x="559" y="385" width="1" height="81" fill="#909090" />
<rect x="676" y="385" width="1" height="81" fill="#ffffff" />
<rect x="677" y="385" width="1" height="81" fill="#909090" />
<rect x="794" y="385" width="1" height="81" fill="#ffffff" />
<rect x="795" y="385" width="1" height="81" fill="#909090" />
<text x="8.5" y="403.0" font-size="12" font-weight="bold" fill="#000" textLength="38.9" lengthAdjust="spacingAndGlyphs">Sensor</text>
<text x="8.5" y="419.0" font-size="12" font-weight="bold" fill="#000" textLength="47.0" lengthAdjust="spacingAndGlyphs">MinWert</text>
<text x="8.5" y="435.0" font-size="12" font-weight="bold" fill="#000" textLength="50.0" lengthAdjust="spacingAndGlyphs">MaxWert</text>
<text x="8.5" y="451.0" font-size="12" font-weight="bold" fill="#000" textLength="72.0" lengthAdjust="spacingAndGlyphs">Durchschnitt</text>
<text x="8.5" y="467.0" font-size="12" font-weight="bold" fill="#000" textLength="72.0" lengthAdjust="spacingAndGlyphs">10.05. 23:55</text>
<text x="94.5" y="403.0" font-size="12" font-weight="bold" fill="#000" textLength="50.0" lengthAdjust="spacingAndGlyphs">Temp. A.</text>
<text x="186.6" y="403.0" font-size="12" font-weight="bold" fill="#000" textLength="12.9" lengthAdjust="spacingAndGlyphs">°C</text>
<text x="100.0" y="419.0" font-size="12" fill="#000" textLength="26.9" lengthAdjust="spacingAndGlyphs">05:37</text>
<text x="184.6" y="419.0" font-size="12" fill="#000" textLength="14.9" lengthAdjust="spacingAndGlyphs">8.9</text>
<text x="100.0" y="435.0" font-size="12" fill="#000" textLength="26.9" lengthAdjust="spacingAndGlyphs">17:25</text>
<text x="178.6" y="435.0" font-size="12" fill="#000" textLength="20.9" lengthAdjust="spacingAndGlyphs">16.9</text>
<text x="172.6" y="451.0" font-size="12" fill="#000" textLength="26.9" lengthAdjust="spacingAndGlyphs">12.74</text>
<text x="177.2" y="467.0" font-size="12" font-weight="bold" fill="#000" textLength="22.3" lengthAdjust="spacingAndGlyphs">10.1</text>
<text x="212.0" y="403.0" font-size="12" font-weight="bold" fill="#000" textLength="61.5" lengthAdjust="spacingAndGlyphs">Feuchte A.</text>
<text x="306.3" y="403.0" font-size="12" font-weight="bold" fill="#000" textLength="10.2" lengthAdjust="spacingAndGlyphs">%</text>
<text x="218.5" y="419.0" font-size="12" fill="#000" textLength="26.9" lengthAdjust="spacingAndGlyphs">19:00</text>
<text x="304.6" y="419.0" font-size="12" fill="#000" textLength="11.9" lengthAdjust="spacingAndGlyphs">71</text>
<text x="218.5" y="435.0" font-size="12" fill="#000" textLength="26.9" lengthAdjust="spacingAndGlyphs">08:40</text>
<text x="304.6" y="435.0" font-size="12" fill="#000" textLength="11.9" lengthAdjust="spacingAndGlyphs">90</text>
<text x="304.6" y="451.0" font-size="12" fill="#000" textLength="11.9" lengthAdjust="spacingAndGlyphs">83</text>
<text x="215.0" y="467.0" font-size="12" fill="#000" textLength="45.4" lengthAdjust="spacingAndGlyphs">7.76 g/m³</text>
<text x="303.8" y="467.0" font-size="12" font-weight="bold" fill="#000" textLength="12.7" lengthAdjust="spacingAndGlyphs">82</text>
<text x="330.5" y="403.0" font-size="12" font-weight="bold" fill="#000" textLength="52.8" lengthAdjust="spacingAndGlyphs">Luftdruck</text>
<text x="413.5" y="403.0" font-size="12" font-weight="bold" fill="#000" textLength="21.0" lengthAdjust="spacingAndGlyphs">hPa</text>
<text x="336.0" y="419.0" font-size="12" fill="#000" textLength="26.9" lengthAdjust="spacingAndGlyphs">04:12</text>
<text x="401.7" y="419.0" font-size="12" fill="#000" textLength="32.8" lengthAdjust="spacingAndGlyphs">1013.4</text>
<text x="336.0" y="435.0" font-size="12" fill="#000" textLength="26.9" lengthAdjust="spacingAndGlyphs">23:35</text>
<text x="401.7" y="435.0" font-size="12" fill="#000" textLength="32.8" lengthAdjust="spacingAndGlyphs">1026.4</text>
<text x="330.5" y="451.0" font-size="12" fill="#000" textLength="51.0" lengthAdjust="spacingAndGlyphs">^1.8hPa/h</text>
<text x="401.7" y="451.0" font-size="12" fill="#000" textLength="32.8" lengthAdjust="spacingAndGlyphs">1018.8</text>
<text x="330.5" y="467.0" font-size="12" fill="#000" textLength="56.1" lengthAdjust="spacingAndGlyphs">leicht bewöl</text>
<text x="397.0" y="467.0" font-size="12" font-weight="bold" fill="#000" textLength="37.5" lengthAdjust="spacingAndGlyphs">1026.2</text>
<text x="447.5" y="403.0" font-size="12" font-weight="bold" fill="#000" textLength="30.0" lengthAdjust="spacingAndGlyphs">Wind</text>
<text x="523.0" y="403.0" font-size="12" font-weight="bold" fill="#000" textLength="29.5" lengthAdjust="spacingAndGlyphs">km/h</text>
<text x="447.5" y="419.0" font-size="12" fill="#000" textLength="45.0" lengthAdjust="spacingAndGlyphs">Ø 10 min.</text>
<text x="537.6" y="419.0" font-size="12" fill="#000" textLength="14.9" lengthAdjust="spacingAndGlyphs">0.0</text>
<text x="454.5" y="435.0" font-size="12" fill="#000" textLength="26.9" lengthAdjust="spacingAndGlyphs">14:50</text>
<text x="516.7" y="435.0" font-size="12" fill="#000" textLength="35.8" lengthAdjust="spacingAndGlyphs">NW 2.7</text>
<text x="537.6" y="451.0" font-size="12" fill="#000" textLength="14.9" lengthAdjust="spacingAndGlyphs">0.6</text>
<text x="454.5" y="467.0" font-size="12" fill="#000" textLength="39.0" lengthAdjust="spacingAndGlyphs">0 Bft SO</text>
<text x="536.6" y="467.0" font-size="12" font-weight="bold" fill="#000" textLength="15.9" lengthAdjust="spacingAndGlyphs">0.0</text>
<text x="566.0" y="403.0" font-size="12" font-weight="bold" fill="#000" textLength="57.5" lengthAdjust="spacingAndGlyphs">Windböen</text>
<text x="641.0" y="403.0" font-size="12" font-weight="bold" fill="#000" textLength="29.5" lengthAdjust="spacingAndGlyphs">km/h</text>
<text x="566.0" y="419.0" font-size="12" fill="#000" textLength="45.0" lengthAdjust="spacingAndGlyphs">Ø 10 min.</text>
<text x="655.6" y="419.0" font-size="12" fill="#000" textLength="14.9" lengthAdjust="spacingAndGlyphs">0.0</text>
<text x="572.5" y="435.0" font-size="12" fill="#000" textLength="26.9" lengthAdjust="spacingAndGlyphs">17:00</text>
<text x="619.5" y="435.0" font-size="12" fill="#000" textLength="51.0" lengthAdjust="spacingAndGlyphs">W-SW 8.4</text>
<text x="655.6" y="451.0" font-size="12" fill="#000" textLength="14.9" lengthAdjust="spacingAndGlyphs">1.0</text>
<text x="572.5" y="467.0" font-size="12" fill="#000" textLength="39.0" lengthAdjust="spacingAndGlyphs">0 Bft SO</text>
<text x="654.6" y="467.0" font-size="12" font-weight="bold" fill="#000" textLength="15.9" lengthAdjust="spacingAndGlyphs">0.0</text>
<text x="684.5" y="403.0" font-size="12" font-weight="bold" fill="#000" textLength="37.5" lengthAdjust="spacingAndGlyphs">Regen</text>
<text x="765.5" y="403.0" font-size="12" font-weight="bold" fill="#000" textLength="23.0" lengthAdjust="spacingAndGlyphs">l/m²</text>
<text x="690.5" y="435.0" font-size="12" fill="#000" textLength="26.9" lengthAdjust="spacingAndGlyphs">00:00</text>
<text x="773.6" y="435.0" font-size="12" fill="#000" textLength="14.9" lengthAdjust="spacingAndGlyphs">0.0</text>
<text x="684.0" y="451.0" font-size="12" fill="#000" textLength="39.0" lengthAdjust="spacingAndGlyphs">Gesamt:</text>
<text x="773.6" y="451.0" font-size="12" fill="#000" textLength="14.9" lengthAdjust="spacingAndGlyphs">0.0</text>
<text x="689.0" y="467.0" font-size="12" fill="#000" textLength="35.0" lengthAdjust="spacingAndGlyphs">0.0 l/m²</text>
<text x="772.6" y="467.0" font-size="12" font-weight="bold" fill="#000" textLength="15.9" lengthAdjust="spacingAndGlyphs">0.0</text>
<rect x="387" y="456" width="4" height="9" fill="#ffd9a0" />
<rect x="391" y="456" width="4" height="9" fill="#ffffff" />
<path d="M387.5 462.5 L391 457.5 L394.5 462.5 L392 462.5 L392 465 L390 465 L390 462.5 Z" fill="#000"/>
</svg>
</body></html>
